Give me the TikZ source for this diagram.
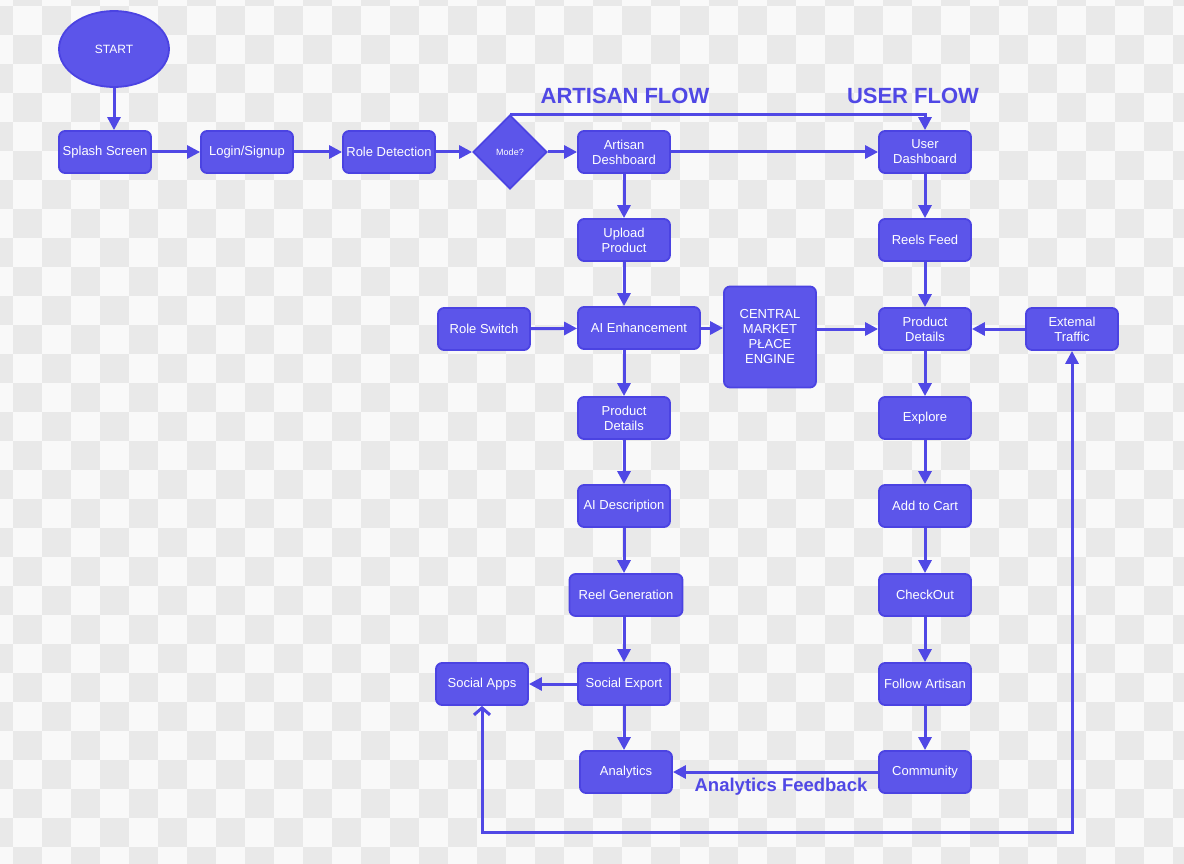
\documentclass[tikz,border=0pt]{standalone}
\usepackage{fontspec}
\setmainfont{Liberation Sans}
\usetikzlibrary{arrows.meta,shapes.geometric,positioning}
\definecolor{boxfill}{HTML}{5C55EA}
\definecolor{boxline}{HTML}{4B43E2}
\definecolor{flowline}{HTML}{5048E5}
\definecolor{checkgrey}{HTML}{E9E9E9}
\definecolor{checkwhite}{HTML}{F9F9F9}
\tikzset{
  procbox/.style={rectangle, rounded corners=6pt, fill=boxfill, draw=boxline, line width=1.8pt,
    text=white, align=center, minimum width=92pt, minimum height=42pt, inner sep=2pt,
    font=\fontsize{13}{15}\selectfont},
  startnode/.style={ellipse, fill=boxfill, draw=boxline, line width=1.8pt, text=white,
    minimum width=110pt, minimum height=76pt, font=\fontsize{12}{14}\selectfont},
  modediamond/.style={diamond, fill=boxfill, draw=boxline, line width=1.8pt, text=white,
    minimum width=74pt, minimum height=74pt, inner sep=0pt, font=\fontsize{9}{11}\selectfont},
  flow/.style={draw=flowline, line width=3pt, -{Triangle[length=13pt,width=13pt]}},
  flowtitle/.style={text=flowline, font=\fontsize{22}{25}\bfseries\selectfont},
  feedbacktitle/.style={text=flowline, font=\fontsize{18.5}{21}\bfseries\selectfont}
}
\begin{document}
\begin{tikzpicture}[x=1pt,y=-1pt]
  \useasboundingbox (0,0) rectangle (1184,864);
  \fill[checkwhite] (0,0) rectangle (1184,864); % background
  \foreach \i in {0,...,41}{\foreach \j in {0,...,30}{%
    \ifodd\numexpr\i+\j\relax \fill[checkgrey] (\i*29-16,\j*29-23) rectangle ++(29,29);\fi}}

  \node[startnode] (start) at (114,49) {START};
  \node[procbox] (splash) at (105,152) {Splash Screen};
  \node[procbox] (login) at (247,152) {Login/Signup};
  \node[procbox] (roledet) at (389,152) {Role Detection};
  \node[modediamond] (mode) at (510,152) {Mode?};

  % artisan column
  \node[procbox] (adash) at (624,152) {Artisan\\Deshboard};
  \node[procbox] (upload) at (624,240) {Upload\\Product};
  \node[procbox] (roleswitch) at (484,329) {Role Switch};
  \node[procbox, minimum width=122pt] (aienh) at (639,328) {AI Enhancement};
  \node[procbox] (apdetails) at (624,418) {Product\\Details};
  \node[procbox] (aidesc) at (624,506) {AI Description};
  \node[procbox, minimum width=113pt] (reelgen) at (626,595) {Reel Generation};
  \node[procbox] (socialexp) at (624,684) {Social Export};
  \node[procbox] (socialapps) at (482,684) {Social Apps};
  \node[procbox] (analytics) at (626,772) {Analytics};

  \node[procbox, minimum height=101pt] (engine) at (770,337) {CENTRAL\\MARKET\\PŁACE\\ENGINE};

  % user column
  \node[procbox] (udash) at (925,152) {User\\Dashboard};
  \node[procbox] (reels) at (925,240) {Reels Feed};
  \node[procbox] (updetails) at (925,329) {Product\\Details};
  \node[procbox] (external) at (1072,329) {Extemal\\Traffic};
  \node[procbox] (explore) at (925,418) {Explore};
  \node[procbox] (cart) at (925,506) {Add to Cart};
  \node[procbox] (checkout) at (925,595) {CheckOut};
  \node[procbox] (follow) at (925,684) {Follow Artisan};
  \node[procbox] (community) at (925,772) {Community};

  \node[flowtitle] (artisanflow) at (625,96) {ARTISAN FLOW};
  \node[flowtitle] (userflow) at (913,96) {USER FLOW};
  \node[feedbacktitle] (feedbacklabel) at (781,787) {Analytics Feedback};

  \draw[flow] (start.south) -- (start.south |- splash.north);
  \draw[flow] (splash) -- (login);
  \draw[flow] (login) -- (roledet);
  \draw[flow] (roledet) -- (mode);
  \draw[flow] (mode) -- (adash);
  \draw[flow] (adash) -- (udash);
  \draw[flow] (mode.north) -| (udash.north); % top route

  \draw[flow] (adash) -- (upload);
  \draw[flow] (upload.south) -- (upload.south |- aienh.north);
  \draw[flow] (roleswitch) -- (aienh);
  \draw[flow] (aienh.east) -- (aienh.east -| engine.west);
  \draw[flow] (engine.east |- updetails.west) -- (updetails.west);
  \draw[flow] (external) -- (updetails);
  \draw[flow] (upload.south |- aienh.south) -- (apdetails);
  \draw[flow] (apdetails) -- (aidesc);
  \draw[flow] (aidesc.south) -- (aidesc.south |- reelgen.north);
  \draw[flow] (socialexp.north |- reelgen.south) -- (socialexp.north);
  \draw[flow] (socialexp) -- (socialapps);
  \draw[flow] (socialexp.south) -- (socialexp.south |- analytics.north);

  \draw[flow] (udash) -- (reels);
  \draw[flow] (reels) -- (updetails);
  \draw[flow] (updetails) -- (explore);
  \draw[flow] (explore) -- (cart);
  \draw[flow] (cart) -- (checkout);
  \draw[flow] (checkout) -- (follow);
  \draw[flow] (follow) -- (community);
  \draw[flow] (community) -- (analytics); % feedback

  \coordinate (loopbottom) at (0,832);
  \draw[flow, {Straight Barb[length=7pt,width=16pt]}-{Triangle[length=13pt,width=13pt]}]
    (socialapps.south) -- (socialapps.south |- loopbottom) -| (external.south);
\end{tikzpicture}
\end{document}
